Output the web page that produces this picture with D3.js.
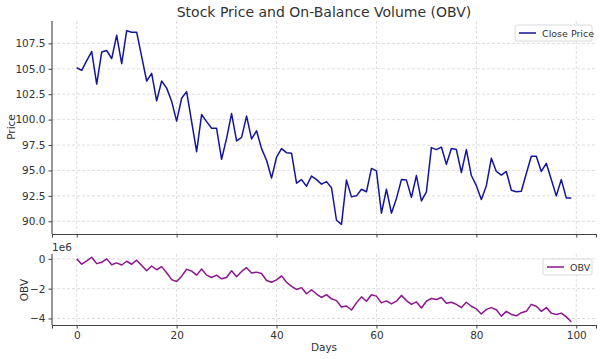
<!DOCTYPE html>
<html><head><meta charset="utf-8">
<script src="https://cdn.jsdelivr.net/npm/d3@7"></script>
<style>
body{margin:0;background:#fff;}
text{font-family:"DejaVu Sans",sans-serif;}
</style></head>
<body><svg id="c" width="602" height="359"></svg>
<script>
const days = d3.range(100);
const closePrice = [105.1,104.85,105.8,106.7,103.5,106.65,106.8,106.0,108.3,105.5,
108.75,108.6,108.6,106.2,103.8,104.55,101.85,103.8,103.1,101.8,
99.85,102.1,102.75,99.8,96.85,100.5,99.8,99.15,99.15,96.1,
98.15,100.6,97.9,98.25,100.35,98.1,98.9,97.15,96.0,94.25,
96.3,97.15,96.75,96.7,93.75,94.1,93.45,94.45,94.1,93.65,
93.9,93.3,90.1,89.7,94.05,92.4,92.5,93.15,92.9,95.2,
94.95,90.8,93.15,90.8,92.25,94.1,94.05,92.35,94.5,92.0,
92.9,97.25,97.05,97.3,95.6,97.15,97.05,94.8,97.05,94.5,
93.5,92.15,93.5,96.2,94.9,94.55,94.9,93.05,92.9,92.95,
94.7,96.4,96.4,94.9,95.7,94.1,92.5,94.1,92.3,92.3];
const obv = [0,-0.36,-0.14,0.11,-0.32,-0.23,0,-0.39,-0.27,-0.41,
-0.16,-0.36,-0.09,-0.45,-0.8,-0.48,-0.73,-0.52,-0.93,-1.39,
-1.52,-1.16,-0.7,-0.82,-1.09,-0.68,-1.09,-1.25,-1.09,-1.34,
-1.25,-0.8,-1.2,-0.84,-0.59,-0.95,-0.89,-0.98,-1.45,-1.57,
-1.41,-1.14,-1.57,-1.84,-2.05,-1.93,-2.34,-2.07,-2.36,-2.59,
-2.4,-2.68,-2.8,-3.23,-3.16,-3.43,-2.95,-2.55,-2.84,-2.41,
-2.5,-2.95,-2.82,-3.02,-2.84,-2.45,-2.8,-3.05,-2.89,-3.3,
-2.84,-2.66,-2.73,-2.59,-2.98,-2.91,-3.05,-3.27,-2.91,-3.18,
-3.36,-3.7,-3.39,-3.27,-3.41,-3.84,-3.52,-3.73,-3.82,-3.61,
-3.52,-3.05,-3.18,-3.52,-3.27,-3.64,-3.73,-3.64,-3.89,-4.22].map(v=>v*1e6);
const xTicks = [0,20,40,60,80,100];
const priceTicks = [90,92.5,95,97.5,100,102.5,105,107.5];
const obvTicks = [-4e6,-2e6,0];

const svg = d3.select("#c");
const L = 52, R = 596;
const pad = (ext)=>{const r=ext[1]-ext[0];return [ext[0]-0.05*r, ext[1]+0.05*r];};
const x = d3.scaleLinear().domain(pad([0,99])).range([L,R]);
const yP = d3.scaleLinear().domain(pad(d3.extent(closePrice))).range([234,21]);
const yO = d3.scaleLinear().domain(pad(d3.extent(obv))).range([325,254]);

const gridC = "#d6d6d6", spineC = "#444", txtC = "#333";
function panel(y, yTicks, fmt, top, bottom, showX){
  const g = svg.append("g");
  // grid
  g.selectAll(".gx").data(xTicks).join("line")
    .attr("x1",d=>x(d)).attr("x2",d=>x(d)).attr("y1",top).attr("y2",bottom)
    .attr("stroke",gridC).attr("stroke-width",0.8).attr("stroke-dasharray","3,2");
  g.selectAll(".gy").data(yTicks).join("line")
    .attr("x1",L).attr("x2",R).attr("y1",d=>y(d)).attr("y2",d=>y(d))
    .attr("stroke",gridC).attr("stroke-width",0.8).attr("stroke-dasharray","3,2");
  // axes
  const ax = svg.append("g").attr("transform",`translate(${L},0)`)
    .call(d3.axisLeft(y).tickValues(yTicks).tickFormat(fmt).tickSizeOuter(0).tickSize(3.5).tickPadding(3));
  ax.select(".domain").attr("stroke",spineC).attr("stroke-width",1.1);
  ax.selectAll(".tick line").attr("stroke",spineC);
  ax.selectAll(".tick text").attr("font-size","10.5px").attr("fill",txtC).attr("font-family","DejaVu Sans");
  const bx = svg.append("g").attr("transform",`translate(0,${bottom})`)
    .call(d3.axisBottom(x).tickValues(xTicks).tickSizeOuter(0).tickSize(3.5).tickPadding(3).tickFormat(showX?d3.format("d"):()=>""));
  bx.select(".domain").attr("stroke",spineC).attr("stroke-width",1.1);
  bx.selectAll(".tick line").attr("stroke",spineC);
  bx.selectAll(".tick text").attr("font-size","10.5px").attr("fill",txtC).attr("font-family","DejaVu Sans");
  ax.select(".domain").attr("d",`M0,${top}V${bottom}`);
}
panel(yP, priceTicks, d3.format(".1f"), 21, 234, false);
panel(yO, obvTicks, d=>d3.format("d")(d/1e6).replace("-","\u2212"), 254, 325, true);

svg.append("path").datum(closePrice)
  .attr("d", d3.line().x((d,i)=>x(days[i])).y(d=>yP(d)))
  .attr("fill","none").attr("stroke","#15159a").attr("stroke-width",1.5).attr("stroke-linejoin","round");
svg.append("path").datum(obv)
  .attr("d", d3.line().x((d,i)=>x(days[i])).y(d=>yO(d)))
  .attr("fill","none").attr("stroke","#8d1590").attr("stroke-width",1.5).attr("stroke-linejoin","round");

// texts
svg.append("text").attr("x",324).attr("y",17).attr("text-anchor","middle")
  .attr("font-size","14px").attr("fill","#333").text("Stock Price and On-Balance Volume (OBV)");
svg.append("text").attr("transform","translate(15,127) rotate(-90)").attr("text-anchor","middle")
  .attr("font-size","10.5px").attr("fill",txtC).text("Price");
svg.append("text").attr("transform","translate(28,290) rotate(-90)").attr("text-anchor","middle")
  .attr("font-size","10.5px").attr("fill",txtC).text("OBV");
svg.append("text").attr("x",324).attr("y",351).attr("text-anchor","middle")
  .attr("font-size","10.5px").attr("fill",txtC).text("Days");
svg.append("text").attr("x",52).attr("y",251)
  .attr("font-size","10.5px").attr("fill",txtC).text("1e6");

// legends
function legend(x0,y0,w,h,color,label){
  const g = svg.append("g");
  g.append("rect").attr("x",x0).attr("y",y0).attr("width",w).attr("height",h).attr("rx",2)
    .attr("fill","#fff").attr("fill-opacity",0.85).attr("stroke","#d0d0d0").attr("stroke-width",0.8);
  g.append("line").attr("x1",x0+4).attr("x2",x0+21).attr("y1",y0+h/2).attr("y2",y0+h/2)
    .attr("stroke",color).attr("stroke-width",1.5);
  g.append("text").attr("x",x0+27).attr("y",y0+h/2+3.5).attr("font-size","9.5px").attr("fill",txtC).text(label);
}
legend(515,25,77,16,"#15159a","Close Price");
legend(543,259,49,16,"#8d1590","OBV");
</script></body></html>
